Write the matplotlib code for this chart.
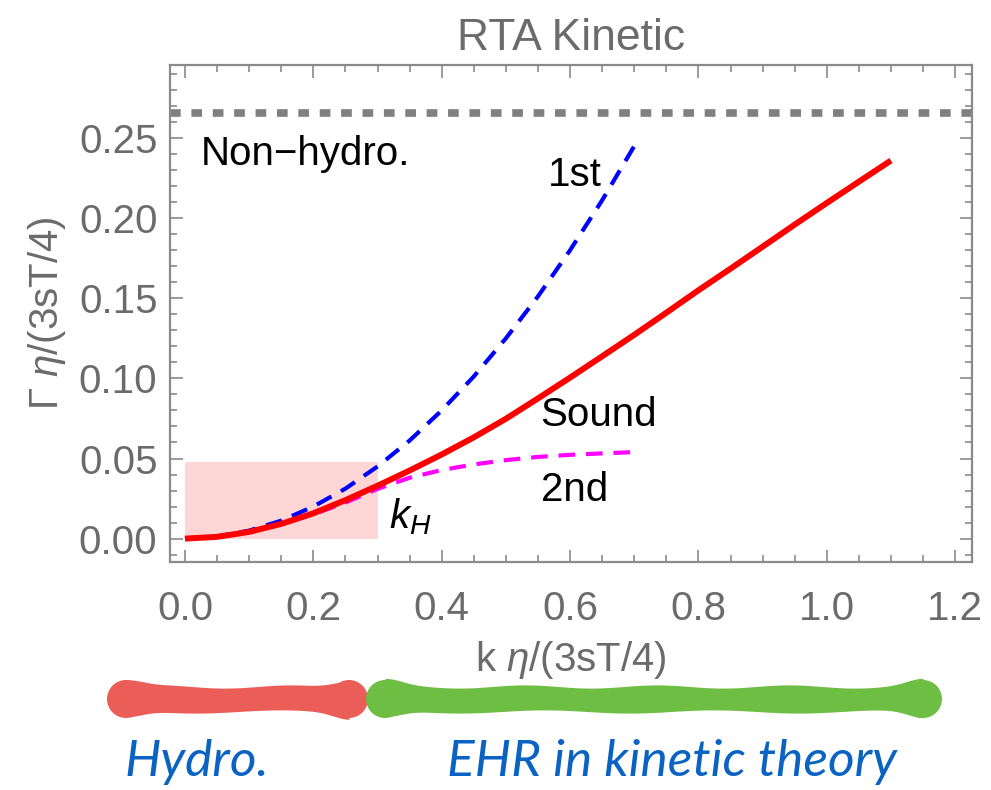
#=========================================================================
# rta-kinetic-plot.py
#=========================================================================

import matplotlib
matplotlib.use('Agg')
import matplotlib.pyplot as plt
from matplotlib.ticker import MultipleLocator, FormatStrFormatter
import numpy as np

#-------------------------------------------------------------------------
# Data
#-------------------------------------------------------------------------

# Sound mode damping rate (solid red)
k_sound = [0.0, 0.05, 0.10, 0.15, 0.20, 0.25, 0.30, 0.35, 0.40, 0.45,
           0.50, 0.55, 0.60, 0.65, 0.70, 0.75, 0.80, 0.85, 0.90, 0.95,
           1.00, 1.05, 1.10]
g_sound = [0.0, 0.0011, 0.0042, 0.0092, 0.0158, 0.0240, 0.0330, 0.0425,
           0.0525, 0.0632, 0.0748, 0.0875, 0.1005, 0.1138, 0.1272, 0.1410,
           0.1550, 0.1685, 0.1822, 0.1960, 0.2095, 0.2228, 0.2360]

# First-order hydro (blue dashed)
k_first = [0.0, 0.05, 0.10, 0.15, 0.20, 0.25, 0.30, 0.35, 0.40, 0.45,
           0.50, 0.55, 0.60, 0.65, 0.70]
g_first = [0.0, 0.0013, 0.0050, 0.0112, 0.0200, 0.0312, 0.0450, 0.0612,
           0.0800, 0.1012, 0.1250, 0.1512, 0.1800, 0.2112, 0.2450]

# Second-order hydro (magenta dashed)
k_second = [0.0, 0.05, 0.10, 0.15, 0.20, 0.25, 0.30, 0.35, 0.40, 0.45,
            0.50, 0.55, 0.60, 0.65, 0.70]
g_second = [0.0, 0.0011, 0.0042, 0.0090, 0.0152, 0.0225, 0.0310, 0.0380,
            0.0428, 0.0463, 0.0490, 0.0510, 0.0523, 0.0532, 0.0540]

# Non-hydro threshold
g_nonhydro = 0.2655

# Hydro window
k_H      = 0.30
g_window = 0.048

#-------------------------------------------------------------------------
# Configure matplotlib
#-------------------------------------------------------------------------

plt.rcParams['font.family']      = 'Liberation Sans'
plt.rcParams['font.size']        = 29
plt.rcParams['mathtext.fontset'] = 'custom'
plt.rcParams['mathtext.rm']      = 'Liberation Sans'
plt.rcParams['mathtext.it']      = 'Liberation Sans:italic'

gray  = '#6b6b6b'
frame = '#8a8a8a'

fig = plt.figure( figsize=(9.91, 7.90), dpi=100 )
ax  = fig.add_axes( [0.1715, 0.2886, 0.8095, 0.6291] )

#-------------------------------------------------------------------------
# Plot
#-------------------------------------------------------------------------

ax.fill_between( [0.0, k_H], 0.0, g_window, color='#ffd6d6', lw=0, zorder=1 )

ax.axhline( g_nonhydro, color='#808080', lw=5.5, dashes=(1.4, 1.4), zorder=2 )

ax.plot( k_second, g_second, color='#ff00ff', lw=3.0, dashes=(4, 2.6), zorder=3 )
ax.plot( k_first,  g_first,  color='#0000ff', lw=3.0, dashes=(4, 2.6), zorder=3 )
ax.plot( k_sound,  g_sound,  color='#ff0000', lw=4.3, zorder=4,
         solid_capstyle='butt' )

# Labels inside the plot
ax.text( 0.025, 0.233,  u'Non\u2212hydro.', color='black' )
ax.text( 0.566, 0.220,  '1st',   color='black' )
ax.text( 0.553, 0.0705, 'Sound', color='black' )
ax.text( 0.555, 0.0236, '2nd',   color='black' )
ax.text( 0.318, 0.0065, r'$k_H$', color='black' )

# Axes formatting
ax.set_xlim( -0.0234, 1.2265 )
ax.set_ylim( -0.0146, 0.2956 )

ax.xaxis.set_major_locator( MultipleLocator(0.2) )
ax.xaxis.set_minor_locator( MultipleLocator(0.05) )
ax.yaxis.set_major_locator( MultipleLocator(0.05) )
ax.yaxis.set_minor_locator( MultipleLocator(0.01) )
ax.xaxis.set_major_formatter( FormatStrFormatter('%.1f') )
ax.yaxis.set_major_formatter( FormatStrFormatter('%.2f') )

ax.tick_params( which='both', direction='in', top=True, right=True,
                color=frame, width=1.2, labelcolor=gray )
ax.tick_params( which='major', length=9 )
ax.tick_params( which='minor', length=5 )
ax.tick_params( axis='x', which='major', pad=20 )
ax.tick_params( axis='y', which='major', pad=9 )

for s in ax.spines.values():
  s.set_color( frame )
  s.set_linewidth( 1.6 )

ax.set_title( 'RTA Kinetic', color=gray, pad=11, fontsize=32 )
ax.set_xlabel( r'k $\eta$/(3sT/4)', color=gray, labelpad=8 )
ax.set_ylabel( r'$\Gamma$ $\eta$/(3sT/4)', color=gray, labelpad=8 )

#-------------------------------------------------------------------------
# Bottom annotation: brush strokes and captions (figure pixel coords)
#-------------------------------------------------------------------------

bx = fig.add_axes( [0, 0, 1, 1] )
bx.set_xlim( 0, 991 )
bx.set_ylim( 790, 0 )
bx.axis( 'off' )

def stroke( x0, x1, yc, color, seed ):
  r  = 19.0
  xs = np.linspace( x0 + r, x1 - r, 300 )
  hw = 12.5 + 6.5*np.exp( -((xs - x0 - r)/22.0)**2 ) \
            + 6.5*np.exp( -((xs - x1 + r)/22.0)**2 )
  up = hw + 1.6*np.sin( xs/21.0 + seed )
  dn = hw + 1.6*np.sin( xs/27.0 + 2*seed )
  bx.fill_between( xs, yc - up, yc + dn, color=color, lw=0 )
  for xc in ( x0 + r, x1 - r ):
    bx.add_patch( plt.Circle( (xc, yc), r, color=color, lw=0 ) )

stroke( 107, 368, 699, '#eb5e57', 0.3 )
stroke( 366, 942, 699, '#6fbe44', 1.7 )

blue = '#0a62c2'
bx.text( 124, 776, 'Hydro.', color=blue, fontsize=37, fontfamily='Lato',
         fontstyle='italic', va='baseline' )
bx.text( 447, 776, 'EHR in kinetic theory', color=blue, fontsize=37,
         fontfamily='Lato', fontstyle='italic', va='baseline' )

plt.savefig( 'out.png', dpi=100 )
